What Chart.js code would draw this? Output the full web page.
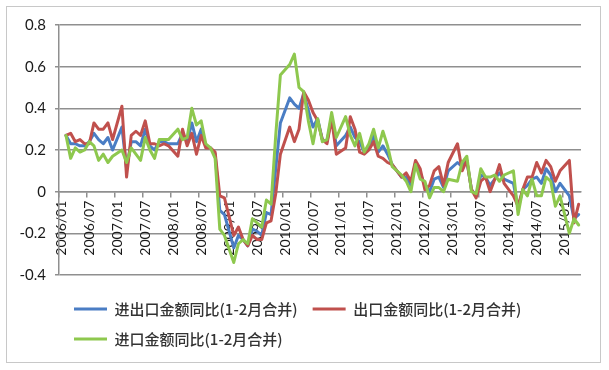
<!DOCTYPE html>
<html>
<head>
<meta charset="utf-8">
<script src="https://cdn.jsdelivr.net/npm/chart.js@4.4.0/dist/chart.umd.min.js"></script>
<style>
html,body{margin:0;padding:0;background:#fff;}
#wrap{position:relative;width:609px;height:370px;overflow:hidden;}
#frame{position:absolute;left:6px;top:6px;width:593px;height:355px;border:1px solid #c8c8c8;}
canvas{position:absolute;left:0;top:0;}
</style>
</head>
<body>
<div id="wrap"><div id="frame"></div><canvas id="c" width="609" height="370"></canvas></div>
<script>
// Categories: months 2006/01 .. 2015/04 (January is merged into February: "1-2月合并")
const years = ['2006','2007','2008','2009','2010','2011','2012','2013','2014','2015'];
const months = ['01','02','03','04','05','06','07','08','09','10','11','12'];
const lastYearMonths = 4;

// 进出口金额同比 (total trade, y/y)
const totalTrade = [
  null, 0.27, 0.23, 0.23, 0.22, 0.22, 0.24, 0.28, 0.25, 0.23, 0.26, 0.20,
  null, 0.31, 0.11, 0.24, 0.24, 0.22, 0.30, 0.22, 0.20, 0.24, 0.24, 0.23,
  null, 0.23, 0.28, 0.24, 0.33, 0.24, 0.30, 0.22, 0.21, 0.18, -0.09, -0.11,
  null, -0.27, -0.21, -0.23, -0.26, -0.18, -0.19, -0.21, -0.10, -0.11, 0.11, 0.33,
  null, 0.45, 0.42, 0.40, 0.47, 0.39, 0.31, 0.35, 0.25, 0.24, 0.36, 0.22,
  null, 0.27, 0.31, 0.26, 0.24, 0.19, 0.22, 0.27, 0.19, 0.22, 0.18, 0.13,
  null, 0.07, 0.07, 0.03, 0.14, 0.09, 0.03, 0.00, 0.06, 0.07, 0.02, 0.10,
  null, 0.14, 0.12, 0.15, 0.01, -0.02, 0.08, 0.07, 0.03, 0.06, 0.09, 0.06,
  null, 0.04, -0.08, 0.01, 0.03, 0.06, 0.07, 0.04, 0.11, 0.08, 0.00, 0.04,
  null, -0.02, -0.13, -0.11
];

// 出口金额同比 (exports, y/y)
const exportsYoY = [
  null, 0.27, 0.28, 0.24, 0.25, 0.23, 0.23, 0.33, 0.30, 0.30, 0.33, 0.25,
  null, 0.41, 0.07, 0.27, 0.29, 0.27, 0.34, 0.23, 0.23, 0.22, 0.23, 0.22,
  null, 0.17, 0.30, 0.22, 0.28, 0.18, 0.27, 0.21, 0.21, 0.19, -0.02, -0.03,
  null, -0.21, -0.17, -0.23, -0.26, -0.21, -0.23, -0.23, -0.15, -0.14, -0.01, 0.18,
  null, 0.31, 0.24, 0.30, 0.48, 0.44, 0.38, 0.34, 0.25, 0.23, 0.35, 0.18,
  null, 0.21, 0.36, 0.30, 0.19, 0.18, 0.20, 0.24, 0.17, 0.16, 0.14, 0.13,
  null, 0.07, 0.09, 0.05, 0.15, 0.11, 0.01, 0.03, 0.10, 0.12, 0.03, 0.14,
  null, 0.23, 0.10, 0.15, 0.01, -0.03, 0.05, 0.07, 0.00, 0.06, 0.13, 0.04,
  null, -0.02, -0.07, 0.01, 0.07, 0.07, 0.14, 0.09, 0.15, 0.12, 0.05, 0.10,
  null, 0.15, -0.15, -0.06
];

// 进口金额同比 (imports, y/y)
const importsYoY = [
  null, 0.27, 0.16, 0.21, 0.19, 0.20, 0.24, 0.22, 0.15, 0.18, 0.14, 0.17,
  null, 0.20, 0.14, 0.21, 0.18, 0.15, 0.26, 0.20, 0.16, 0.25, 0.25, 0.25,
  null, 0.30, 0.25, 0.26, 0.40, 0.32, 0.34, 0.23, 0.21, 0.16, -0.18, -0.21,
  null, -0.34, -0.25, -0.23, -0.25, -0.13, -0.15, -0.17, -0.04, -0.06, 0.27, 0.56,
  null, 0.61, 0.66, 0.50, 0.48, 0.34, 0.23, 0.35, 0.24, 0.25, 0.38, 0.26,
  null, 0.36, 0.27, 0.22, 0.28, 0.19, 0.23, 0.30, 0.21, 0.29, 0.22, 0.12,
  null, 0.08, 0.05, 0.00, 0.13, 0.06, 0.05, -0.03, 0.02, 0.02, 0.00, 0.06,
  null, 0.05, 0.14, 0.17, 0.00, -0.01, 0.11, 0.07, 0.07, 0.08, 0.05, 0.08,
  null, 0.10, -0.11, 0.01, -0.02, 0.06, -0.02, -0.02, 0.07, 0.05, -0.07, -0.02,
  null, -0.20, -0.13, -0.16
];

const seriesNames = ['进出口金额同比(1-2月合并)', '出口金额同比(1-2月合并)', '进口金额同比(1-2月合并)'];
const yTicks = { min: -0.4, max: 0.8, step: 0.2 };

const labels = [];
years.forEach((y, yi) => {
  const n = yi === years.length - 1 ? lastYearMonths : 12;
  for (let m = 0; m < n; m++) labels.push(y + '/' + months[m]);
});

const gridGrey = '#8f8f8f';
const textCol = '#1a1a1a';

new Chart(document.getElementById('c'), {
  type: 'line',
  data: {
    labels: labels,
    datasets: [
      { label: seriesNames[0], data: totalTrade, borderColor: '#4A7DC4', backgroundColor: '#4A7DC4', order: 2 },
      { label: seriesNames[1], data: exportsYoY, borderColor: '#C0504D', backgroundColor: '#C0504D', order: 1 },
      { label: seriesNames[2], data: importsYoY, borderColor: '#8EC84E', backgroundColor: '#8EC84E', order: 0 }
    ].map(d => Object.assign(d, {
      borderWidth: 3, pointRadius: 0, pointHoverRadius: 0, tension: 0,
      spanGaps: true, fill: false, borderJoinStyle: 'round', borderCapStyle: 'round'
    }))
  },
  options: {
    responsive: false,
    animation: false,
    devicePixelRatio: 1,
    events: [],
    layout: { padding: { left: 8, right: 28, top: 25, bottom: 13.5 } },
    scales: {
      x: {
        type: 'category',
        position: { y: 0 },
        offset: true,
        grid: {
          display: true, drawOnChartArea: false, drawTicks: true, tickLength: 5, offset: true, lineWidth: 1.5,
          color: ctx => (ctx.index % 6 === 0 ? gridGrey : 'rgba(0,0,0,0)')
        },
        border: { display: true, color: gridGrey, width: 1.5 },
        ticks: {
          autoSkip: false, minRotation: 90, maxRotation: 90, padding: 4, color: textCol,
          font: { family: 'Lato', size: 14 },
          callback: function (v, i) { return i % 6 === 0 ? this.getLabelForValue(v) : ''; }
        },
        afterFit: s => { s.height = 0; }
      },
      y: {
        min: yTicks.min, max: yTicks.max,
        grid: { color: gridGrey, lineWidth: 1.5, tickLength: 4 },
        border: { display: true, color: gridGrey, width: 1.5 },
        ticks: {
          stepSize: yTicks.step, padding: 9, color: textCol,
          font: { family: 'Lato', size: 15 },
          callback: v => { const r = Math.round(v * 10) / 10; return r === 0 ? '0' : String(r); }
        },
        afterFit: s => { s.width = 51; }
      }
    },
    plugins: {
      tooltip: { enabled: false },
      legend: {
        position: 'bottom',
        align: 'start',
        fullSize: false,
        title: { display: true, text: '', padding: 0, font: { size: 10, lineHeight: 1.15 } },
        labels: {
          boxWidth: 33, boxHeight: 3, padding: 15, color: '#333333',
          font: { family: "'Noto Sans CJK SC'", size: 15, weight: '500' },
          generateLabels: chart => Chart.defaults.plugins.legend.labels.generateLabels(chart)
            .map(l => Object.assign(l, { lineWidth: 0 }))
            .sort((a, b) => a.datasetIndex - b.datasetIndex)
        }
      }
    }
  }
});
</script>
</body>
</html>
